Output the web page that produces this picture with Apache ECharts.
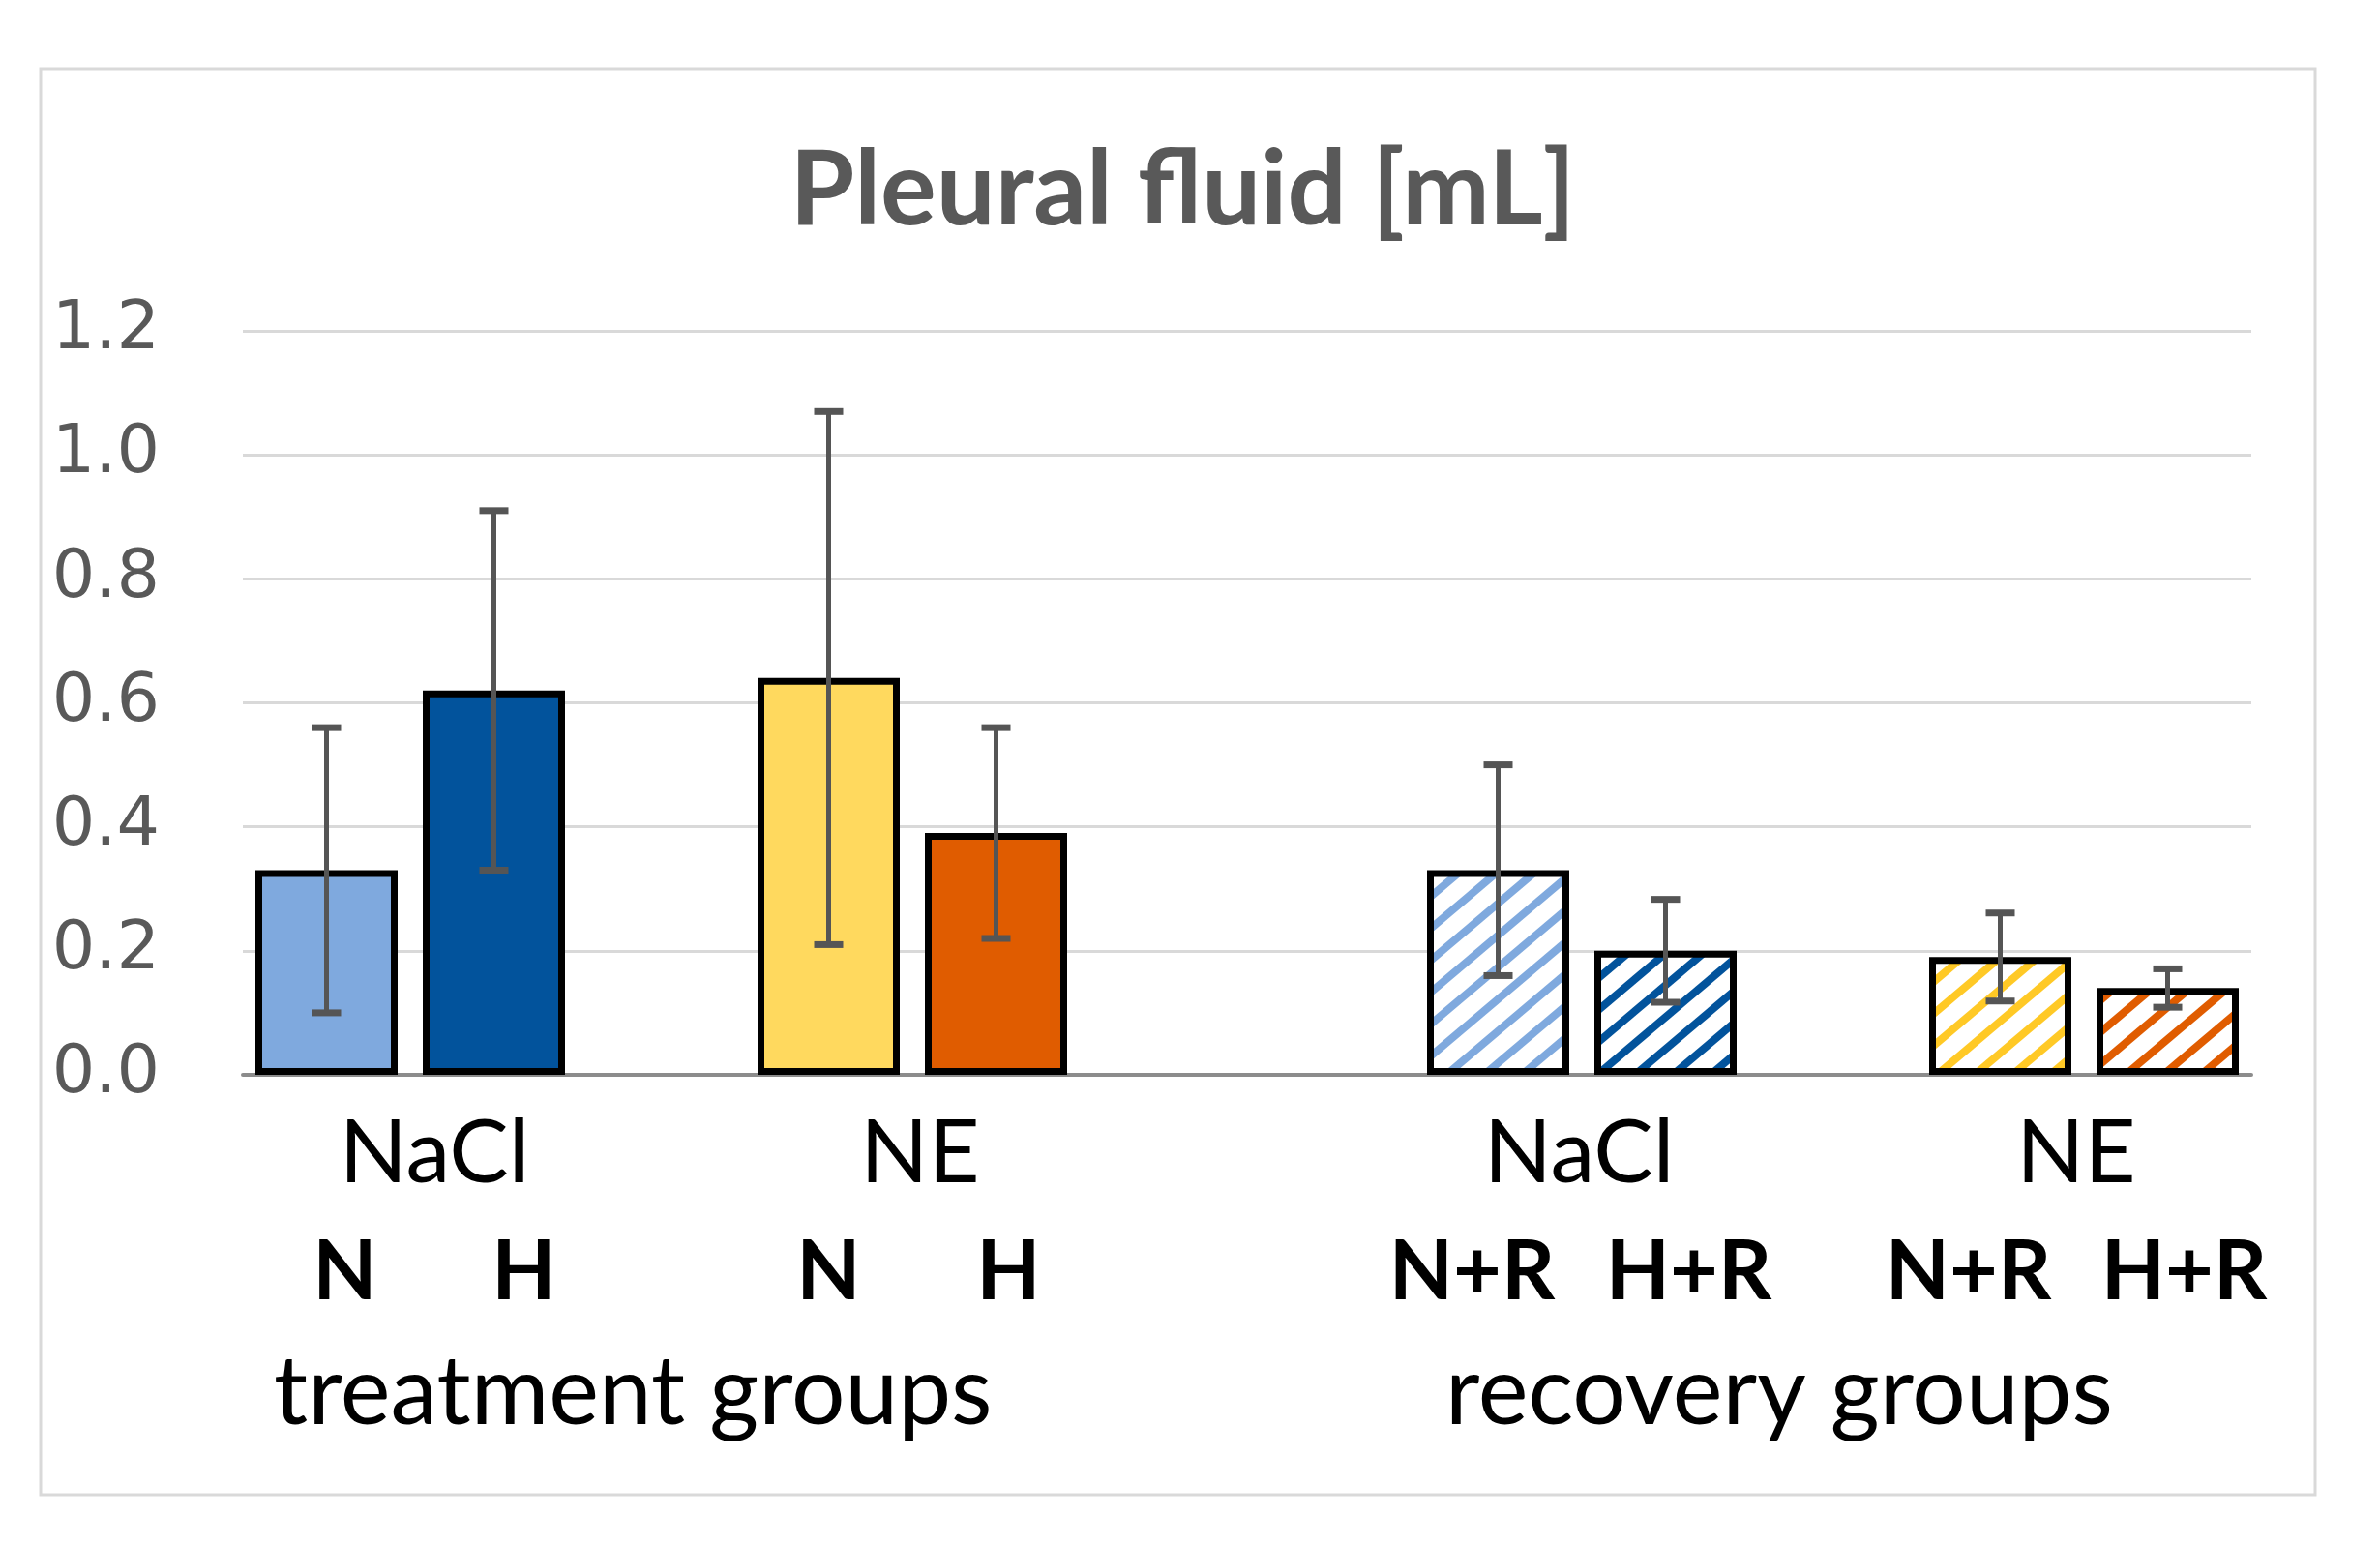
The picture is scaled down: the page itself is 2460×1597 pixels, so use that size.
<!DOCTYPE html>
<html>
<head>
<meta charset="utf-8">
<script src="https://cdn.jsdelivr.net/npm/echarts@6/dist/echarts.min.js"></script>
<style>
html,body{margin:0;padding:0;background:#fff;}
#c{width:2460px;height:1597px;}
</style>
</head>
<body>
<div id="c"></div>
<script>
// ---- data ----
const titleText = 'Pleural fluid [mL]';
const categories = ['N', 'H', '', 'N', 'H', '', '', 'N+R', 'H+R', '', 'N+R', 'H+R'];
const means = [0.33, 0.62, null, 0.64, 0.39, null, null, 0.33, 0.20, null, 0.19, 0.14];
const errs  = [0.23, 0.29, null, 0.43, 0.17, null, null, 0.17, 0.083, null, 0.071, 0.031];
const groupLabels = ['NaCl', 'NE', 'NaCl', 'NE'];
const groupSpans = [[0, 1], [3, 4], [7, 8], [10, 11]];
const sectionLabels = ['treatment groups', 'recovery groups'];
const sectionSpans = [[0, 4], [7, 11]];
const yTicks = [0, 0.2, 0.4, 0.6, 0.8, 1.0, 1.2];

// ---- styles / layout nudges (px) ----
const barColors = ['#7fa9de', '#02539c', null, '#ffd95e', '#e05c00', null, null, '#7fa9de', '#02539c', null, '#ffc926', '#e05c00'];
const hatched   = [false, false, false, false, false, false, false, true, true, false, true, true];
const barLabelShift = [19, 31, 0, 0, 13, 0, 0, -27, 24, 0, -33, 17];
const groupLabelShift = [25, 8, -3, -8];

function makeHatch(color) {
  const w = 39, h = 33;
  const cv = document.createElement('canvas');
  cv.width = w; cv.height = h;
  const ctx = cv.getContext('2d');
  ctx.fillStyle = '#ffffff';
  ctx.fillRect(0, 0, w, h);
  ctx.strokeStyle = color;
  ctx.lineWidth = 8;
  for (let k = -2; k <= 2; k++) {
    ctx.beginPath();
    ctx.moveTo(k * w - w, 2 * h);
    ctx.lineTo(k * w + 2 * w, -h);
    ctx.stroke();
  }
  return { image: cv, repeat: 'repeat' };
}

const chart = echarts.init(document.getElementById('c'), null, { renderer: 'canvas' });

const barData = means.map((v, i) => {
  if (v === null) return '-';
  return {
    value: v,
    itemStyle: {
      color: hatched[i] ? makeHatch(barColors[i]) : barColors[i],
      borderColor: '#000',
      borderWidth: 7
    }
  };
});

const errData = [];
means.forEach((v, i) => {
  if (v !== null) errData.push([i, v - errs[i], v + errs[i]]);
});

const rich = {};
barLabelShift.forEach((s, i) => {
  rich['b' + i] = {
    fontFamily: 'Lato', fontWeight: 'bold', fontSize: 86, lineHeight: 84, color: '#000',
    padding: [0, s < 0 ? -2 * s : 0, 0, s > 0 ? 2 * s : 0]
  };
});

const frame = { x: 42, y: 71, w: 2351, h: 1474 };

const option = {
  backgroundColor: '#ffffff',
  animation: false,
  title: {
    text: titleText,
    left: frame.x + frame.w / 2,
    textAlign: 'center',
    top: 138,
    textStyle: { fontFamily: 'Lato', fontWeight: 'bold', fontSize: 108, color: '#595959', lineHeight: 108 }
  },
  grid: { left: 251, right: 133, top: 342, bottom: 486, containLabel: false },
  xAxis: {
    type: 'category',
    data: categories,
    axisLine: { show: true, lineStyle: { color: '#8c8c8c', width: 4 } },
    axisTick: { show: false },
    splitLine: { show: false },
    axisLabel: {
      interval: 0,
      margin: 162,
      fontFamily: 'Lato',
      fontWeight: 'bold',
      fontSize: 86,
      lineHeight: 84,
      color: '#000',
      formatter: (value, index) => value ? '{b' + index + '|' + value + '}' : '',
      rich: rich
    }
  },
  yAxis: {
    type: 'value',
    min: 0,
    max: 1.2,
    interval: 0.2,
    axisLine: { show: false },
    axisTick: { show: false },
    splitLine: { show: true, lineStyle: { color: '#d9d9d9', width: 3 } },
    axisLabel: {
      margin: 86,
      fontFamily: 'DejaVu Sans',
      fontSize: 70,
      color: '#595959',
      formatter: v => {
        const t = yTicks.find(x => Math.abs(x - v) < 1e-9);
        return (t === undefined ? v : t).toFixed(1);
      }
    }
  },
  series: [
    {
      type: 'bar',
      data: barData,
      barWidth: 147,
      z: 2
    },
    {
      type: 'custom',
      data: errData,
      z: 5,
      renderItem: function (params, api) {
        const x = api.value(0);
        const lo = api.coord([x, api.value(1)]);
        const hi = api.coord([x, api.value(2)]);
        const cw = 15;
        return {
          type: 'group',
          children: [
            { type: 'line', shape: { x1: lo[0], y1: lo[1], x2: hi[0], y2: hi[1] }, style: { stroke: '#555555', lineWidth: 5 } },
            { type: 'line', shape: { x1: hi[0] - cw, y1: hi[1], x2: hi[0] + cw, y2: hi[1] }, style: { stroke: '#555555', lineWidth: 7 } },
            { type: 'line', shape: { x1: lo[0] - cw, y1: lo[1], x2: lo[0] + cw, y2: lo[1] }, style: { stroke: '#555555', lineWidth: 7 } }
          ]
        };
      }
    }
  ]
};

chart.setOption(option);

// group and section labels positioned through the category axis
const y0 = chart.convertToPixel({ yAxisIndex: 0 }, 0);
const p0 = chart.convertToPixel({ xAxisIndex: 0 }, 0);
const p1 = chart.convertToPixel({ xAxisIndex: 0 }, 1);
const slot = p1 - p0;
const graphics = [
  {
    type: 'rect',
    shape: { x: frame.x, y: frame.y, width: frame.w, height: frame.h },
    style: { fill: 'none', stroke: '#d9d9d9', lineWidth: 3 },
    silent: true, z: -10
  }
];
groupLabels.forEach((t, i) => {
  const a = chart.convertToPixel({ xAxisIndex: 0 }, groupSpans[i][0]);
  const b = chart.convertToPixel({ xAxisIndex: 0 }, groupSpans[i][1]);
  graphics.push({
    type: 'text',
    x: (a + b) / 2 + groupLabelShift[i],
    y: y0 + 81,
    style: { text: t, fontFamily: 'Lato', fontSize: 92, fill: '#000', align: 'center', verticalAlign: 'middle' }
  });
});
sectionLabels.forEach((t, i) => {
  const a = chart.convertToPixel({ xAxisIndex: 0 }, sectionSpans[i][0]) - slot / 2;
  graphics.push({
    type: 'text',
    x: a + 32,
    y: y0 + 329,
    style: { text: t, fontFamily: 'Lato', fontSize: 98, fill: '#000', align: 'left', verticalAlign: 'middle' }
  });
});
chart.setOption({ graphic: graphics });
</script>
</body>
</html>
